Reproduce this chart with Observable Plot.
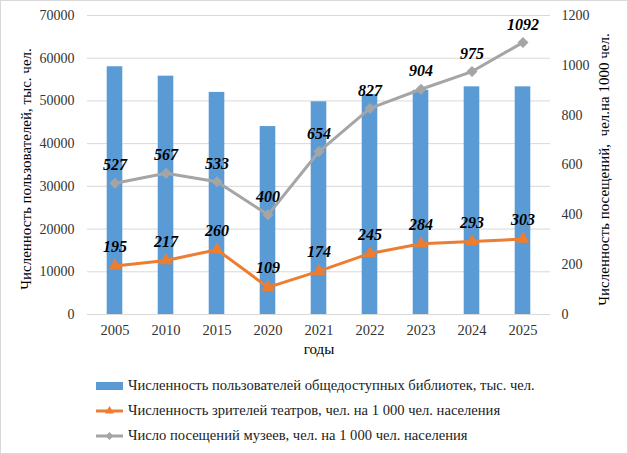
<!DOCTYPE html>
<html>
<head>
<meta charset="utf-8">
<script src="https://cdn.jsdelivr.net/npm/d3@7"></script>
<script src="https://cdn.jsdelivr.net/npm/@observablehq/plot@0.6"></script>
<style>
  html, body { margin: 0; padding: 0; background: #fff; }
  #wrap { position: relative; width: 626px; height: 452px; border: 1px solid #d9d9d9; font-family: "Liberation Serif", "Times New Roman", serif; overflow: hidden; }
  #legend { position: absolute; left: 95px; top: 372px; font-size: 14.6px; color: #222; }
  .li { display: flex; align-items: center; height: 25px; }
  .sw { width: 27px; height: 20px; margin-right: 5px; display: flex; align-items: center; justify-content: center; }
</style>
</head>
<body>
<div id="wrap"><div id="chart"></div><div id="legend"></div></div>
<script>
const years = ["2005","2010","2015","2020","2021","2022","2023","2024","2025"];
const libraryUsers = [58000, 55800, 52000, 44000, 49800, 51500, 52500, 53300, 53300];
const theatreViewers = [195, 217, 260, 109, 174, 245, 284, 293, 303];
const museumVisits = [527, 567, 533, 400, 654, 827, 904, 975, 1092];
const leftTicks = [0, 10000, 20000, 30000, 40000, 50000, 60000, 70000];
const rightTicks = [0, 200, 400, 600, 800, 1000, 1200];

const seriesNames = [
  "Численность пользователей общедоступных библиотек, тыс. чел.",
  "Численность зрителей театров, чел. на 1 000 чел. населения",
  "Число посещений  музеев, чел. на 1 000 чел. населения"
];
const colors = ["#5B9BD5", "#ED7D31", "#A5A5A5"];

const leftMax = 70000, rightMax = 1200;
const toLeft = v => v * leftMax / rightMax;

const bars = years.map((y, i) => ({year: y, value: libraryUsers[i]}));
const theatre = years.map((y, i) => ({year: y, value: theatreViewers[i], yv: toLeft(theatreViewers[i])}));
const museum = years.map((y, i) => ({year: y, value: museumVisits[i], yv: toLeft(museumVisits[i])}));

const font = "'Liberation Serif', 'Times New Roman', serif";

const chart = Plot.plot({
  width: 626,
  height: 366,
  marginTop: 14,
  marginBottom: 53,
  marginLeft: 86,
  marginRight: 77,
  style: {fontFamily: font, fontSize: "14px", color: "#333", background: "white"},
  x: {domain: years, padding: 0, label: null},
  y: {domain: [0, leftMax], label: null},
  marks: [
    Plot.gridY(leftTicks, {stroke: "#d9d9d9", strokeOpacity: 1}),
    Plot.axisY(leftTicks, {anchor: "left", tickSize: 0, tickPadding: 13, label: null, tickFormat: d => String(d), fontSize: 14}),
    Plot.axisY(rightTicks.map(toLeft), {anchor: "right", tickSize: 0, tickPadding: 11, label: null, tickFormat: d => String(Math.round(d * rightMax / leftMax)), fontSize: 14}),
    Plot.axisX({tickSize: 0, tickPadding: 10, label: null, fontSize: 14.5}),
    Plot.barY(bars, {x: "year", y: "value", fill: colors[0], insetLeft: 17.7, insetRight: 17.7}),
    Plot.ruleY([0], {stroke: "#d9d9d9"}),
    Plot.line(museum, {x: "year", y: "yv", stroke: colors[2], strokeWidth: 3}),
    Plot.dot(museum, {x: "year", y: "yv", symbol: "diamond2", fill: colors[2], stroke: colors[2], r: 4}),
    Plot.line(theatre, {x: "year", y: "yv", stroke: colors[1], strokeWidth: 3}),
    Plot.dot(theatre, {x: "year", y: "yv", symbol: "triangle2", fill: colors[1], stroke: colors[1], r: 5}),
    Plot.text(museum, {x: "year", y: "yv", text: d => String(d.value), dy: -18, fontSize: 16, fontWeight: "bold", fontStyle: "italic", fill: "#000"}),
    Plot.text(theatre, {x: "year", y: "yv", text: d => String(d.value), dy: -19, fontSize: 16, fontWeight: "bold", fontStyle: "italic", fill: "#000"}),
    Plot.text(["годы"], {frameAnchor: "bottom", dy: 39, fontSize: 15, fill: "#000"}),
    Plot.text(["Численность пользователей, тыс. чел."], {frameAnchor: "left", textAnchor: "middle", dx: -61, dy: 4, rotate: -90, fontSize: 15, fill: "#000"}),
    Plot.text(["Численность посещений,  чел.на 1000 чел."], {frameAnchor: "right", textAnchor: "middle", dx: 54, dy: 4.5, rotate: -90, fontSize: 15, fill: "#000"})
  ]
});
document.getElementById("chart").appendChild(chart);

const legend = document.getElementById("legend");
const swatches = [
  `<svg width="27" height="12"><rect x="0" y="2" width="27" height="8" fill="${colors[0]}"/></svg>`,
  `<svg width="27" height="12"><line x1="0" y1="6" x2="27" y2="6" stroke="${colors[1]}" stroke-width="3"/><path d="M13.5,1 L18,8.5 L9,8.5 Z" fill="${colors[1]}"/></svg>`,
  `<svg width="27" height="12"><line x1="0" y1="6" x2="27" y2="6" stroke="${colors[2]}" stroke-width="3"/><path d="M13.5,2 L17.5,6 L13.5,10 L9.5,6 Z" fill="${colors[2]}"/></svg>`
];
seriesNames.forEach((name, i) => {
  const row = document.createElement("div");
  row.className = "li";
  row.innerHTML = `<span class="sw">${swatches[i]}</span><span>${name}</span>`;
  legend.appendChild(row);
});
</script>
</body>
</html>
